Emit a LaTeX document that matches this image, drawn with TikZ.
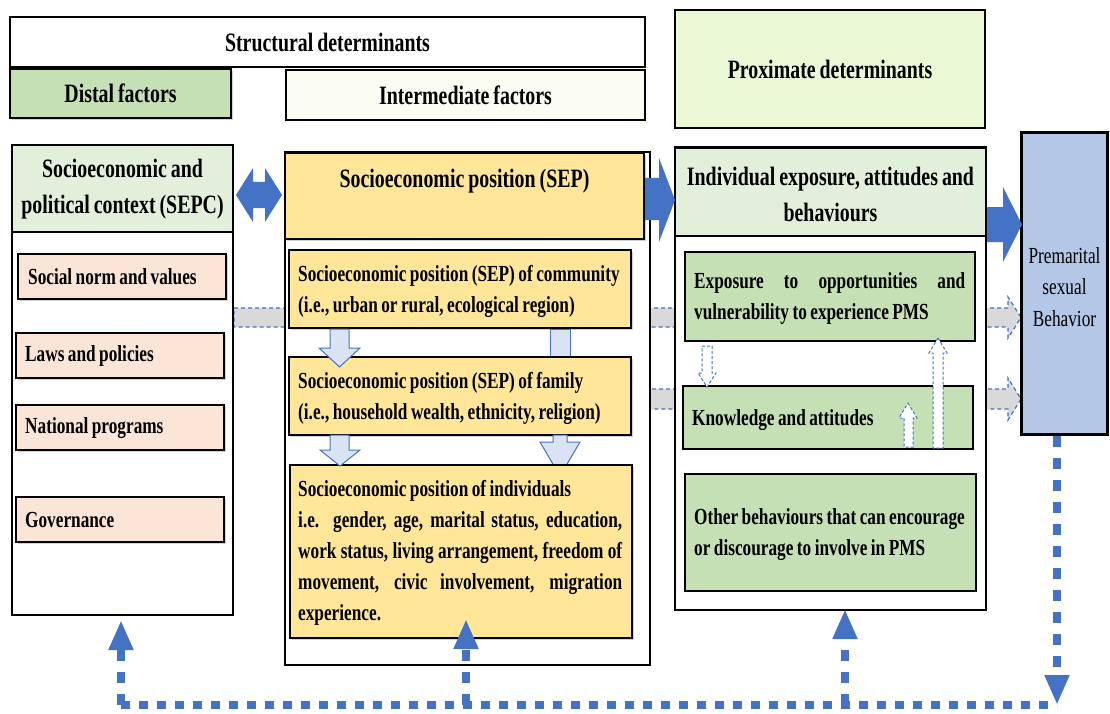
\documentclass[tikz,border=0pt]{standalone}
\usepackage{fontspec}
\setmainfont{Liberation Serif}[FakeStretch=0.75,WordSpace=0.8]
\usetikzlibrary{arrows.meta,shadows}
\definecolor{dgreen}{HTML}{C5E0B4}
\definecolor{hgreen}{HTML}{E2EFDA}
\definecolor{limeg}{HTML}{EBF8D5}
\definecolor{ivoryg}{HTML}{FBFDF3}
\definecolor{peach}{HTML}{FBE5D6}
\definecolor{goldy}{HTML}{FFE699}
\definecolor{mblue}{HTML}{4472C4}
\definecolor{lblue}{HTML}{DAE3F3}
\definecolor{pblue}{HTML}{B4C7E7}
\definecolor{lgray}{HTML}{D9D9D9}
\newcommand\hdf{\fontsize{26.5}{36}\selectfont\bfseries}
\newcommand\bdf{\fontsize{23}{31}\selectfont\bfseries}
\begin{document}
\begin{tikzpicture}[x=1pt,y=-1pt,
  bx/.style={draw=black,line width=1.3pt,rectangle,inner sep=0pt},
  shd/.style={drop shadow={shadow xshift=2pt,shadow yshift=-2pt,opacity=0.35}},
  hdt/.style={inner sep=0pt,font=\hdf,align=center},
  bdt/.style={inner sep=0pt,font=\bdf,anchor=west},
  gar/.style={fill=lgray,draw=mblue,line width=1.2pt,dash pattern=on 4pt off 3pt},
  sar/.style={fill=white,draw=mblue,line width=1pt,dash pattern=on 3pt off 2pt},
  lar/.style={fill=lblue,draw=mblue,line width=1pt},
  bar/.style={fill=mblue},
  doth/.style={draw=mblue,line width=8pt,dash pattern=on 9pt off 9pt},
  dotv/.style={draw=mblue,line width=7.5pt,dash pattern=on 11pt off 11pt,-{Triangle[length=30pt,width=23pt]}}
]
\useasboundingbox (0,0) rectangle (1110,714);

% background gray dashed arrows
\draw[gar] (234,308) -- (1008,308) -- (1008,297) -- (1021,317.5) -- (1008,338) -- (1008,327) -- (234,327) -- cycle;
\draw[gar] (645,389) -- (1008,389) -- (1008,378) -- (1021,399) -- (1008,420) -- (1008,409) -- (645,409) -- cycle;

% top headers
\node[bx,fill=white,minimum width=635pt,minimum height=50pt] (sd) at (327.5,42) {};
\node[hdt] (sdt) at (sd) {Structural determinants};
\node[bx,fill=dgreen,minimum width=221pt,minimum height=49pt,shd] (df) at (120.5,93.5) {};
\node[hdt] (dft) at (df) {Distal factors};
\node[bx,fill=ivoryg,minimum width=359pt,minimum height=50pt] (itf) at (465.5,95) {};
\node[hdt] (itft) at (itf) {Intermediate factors};
\node[bx,fill=limeg,minimum width=310pt,minimum height=118pt] (pd) at (830,69) {};
\node[hdt] (pdt) at (pd) {Proximate determinants};

% left column
\node[bx,fill=white,minimum width=221pt,minimum height=470pt] (lo) at (122.5,380) {};
\node[bx,fill=hgreen,minimum width=221pt,minimum height=87pt] (lh) at (122.5,188.5) {};
\node[hdt] (lht) at (122.5,189) {Socioeconomic and\\political context (SEPC)};
\node[bx,fill=peach,minimum width=208pt,minimum height=45pt,shd] (n1) at (122,276.5) {};
\node[bdt] (n1t) at (28,277) {Social norm and values};
\node[bx,fill=peach,minimum width=208pt,minimum height=45pt,shd] (n2) at (120,355.5) {};
\node[bdt] (n2t) at (25,356) {Laws and policies};
\node[bx,fill=peach,minimum width=208pt,minimum height=45pt,shd] (n3) at (120,427.5) {};
\node[bdt] (n3t) at (25,428) {National programs};
\node[bx,fill=peach,minimum width=208pt,minimum height=45pt,shd] (n4) at (120,519.5) {};
\node[bdt] (n4t) at (25,520) {Governance};

% middle column
\node[bx,fill=white,minimum width=365pt,minimum height=513pt] (mo) at (467.5,408.5) {};
\node[bx,fill=goldy,minimum width=359pt,minimum height=86pt,shd] (mh) at (464.5,196) {};
\node[hdt] (mht) at (464.5,181) {Socioeconomic position (SEP)};
\node[bx,fill=goldy,minimum width=342pt,minimum height=78pt,shd] (cm) at (460,289) {};
\node[bdt,align=left] (cmt) at (298,291) {Socioeconomic position (SEP) of community\\(i.e., urban or rural, ecological region)};
\draw[lar] (550,329) rectangle (570,362);
\node[bx,fill=goldy,minimum width=342pt,minimum height=78pt,shd] (fm) at (460,396) {};
\node[bdt,align=left] (fmt) at (298,398) {Socioeconomic position (SEP) of family\\(i.e., household wealth, ethnicity, religion)};
\draw[lar] (553,435) -- (567,435) -- (567,442) -- (580,442) -- (560,476) -- (540,442) -- (553,442) -- cycle;
\node[bx,fill=goldy,minimum width=342pt,minimum height=173pt,shd] (iv) at (461,551.5) {};
\node[bdt,text width=324pt,align=justify] (ivt) at (298,553) {Socioeconomic position of individuals\\i.e. gender, age, marital status, education,\linebreak work status, living arrangement, freedom of\linebreak movement, civic involvement, migration\linebreak experience.};
\draw[lar] (330,329) -- (349,329) -- (349,348) -- (360,348) -- (339.5,367) -- (319,348) -- (330,348) -- cycle;
\draw[lar] (330,435) -- (349,435) -- (349,450) -- (360,450) -- (340,466) -- (320,450) -- (330,450) -- cycle;

% right column
\node[bx,fill=white,minimum width=311pt,minimum height=462pt] (ro) at (830.5,379) {};
\node[bx,fill=hgreen,minimum width=311pt,minimum height=88pt] (rh) at (830.5,192) {};
\draw[line width=3pt] (rh.north west) -- (rh.north east);
\node[hdt] (rht) at (830.5,194.5) {Individual exposure, attitudes and\\behaviours};
\node[bx,fill=dgreen,minimum width=290pt,minimum height=89pt] (ex) at (830,296.5) {};
\node[bdt,text width=271pt,align=justify] (ext) at (694,298.5) {Exposure to opportunities and\linebreak vulnerability to experience PMS};
\node[bx,fill=dgreen,minimum width=290pt,minimum height=63pt] (kn) at (828,417.5) {};
\node[bdt] (knt) at (692,420) {Knowledge and attitudes};
\node[bx,fill=dgreen,minimum width=291pt,minimum height=117pt] (ob) at (830.5,532.5) {};
\node[bdt,align=left] (obt) at (694,534.5) {Other behaviours that can encourage\\or discourage to involve in PMS};
\draw[sar] (702,346) -- (712,346) -- (712,373) -- (716,373) -- (707,387) -- (698,373) -- (702,373) -- cycle;
\draw[sar] (908,403) -- (917,418) -- (913,418) -- (913,447) -- (904,447) -- (904,418) -- (899,418) -- cycle;
\draw[sar] (938,338) -- (947,353) -- (943,353) -- (943,448) -- (933,448) -- (933,353) -- (929,353) -- cycle;

% outcome
\node[draw=black,line width=3.5pt,fill=pblue,minimum width=86pt,minimum height=302pt,inner sep=0pt] (pm) at (1064.5,283.5) {};
\node[inner sep=0pt,align=center,font=\fontsize{23}{31.5}\selectfont] (pmt) at (1064.5,287) {Premarital\\sexual\\Behavior};

% block arrows
\fill[bar] (236,195) -- (253,168) -- (253,182) -- (265,182) -- (265,168) -- (282,195) -- (265,222) -- (265,208) -- (253,208) -- (253,222) -- cycle;
\fill[bar] (645,178) -- (659,178) -- (659,158) -- (675,200) -- (659,242) -- (659,220) -- (645,220) -- cycle;
\fill[bar] (987,207) -- (1003,207) -- (1003,187) -- (1022,224.5) -- (1003,262) -- (1003,242) -- (987,242) -- cycle;

% feedback loop
\coordinate (bl) at (121,705);
\coordinate (bm) at (466,705);
\coordinate (br) at (845,705);
\coordinate (be) at (1057,705);
\coordinate (tl) at (121,620);
\coordinate (tm) at (466,619);
\coordinate (tr) at (845,609);
\draw[doth] (bl) -- (be);
\draw[dotv] (pm.south -| be) -- (be);
\draw[dotv] (bl) -- (tl);
\draw[dotv] (bm) -- (tm);
\draw[dotv] (br) -- (tr);
\end{tikzpicture}
\end{document}
